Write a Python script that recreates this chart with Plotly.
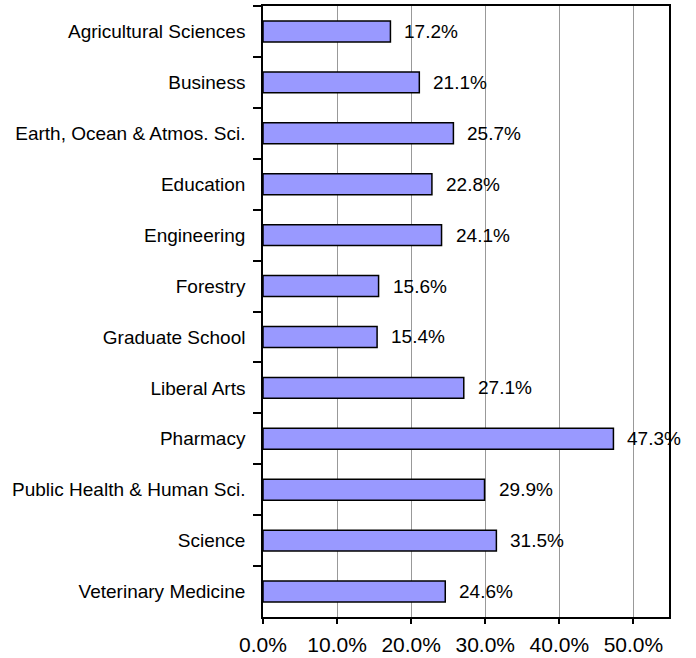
import plotly.graph_objects as go

categories = ["Agricultural Sciences", "Business", "Earth, Ocean & Atmos. Sci.", "Education",
              "Engineering", "Forestry", "Graduate School", "Liberal Arts", "Pharmacy",
              "Public Health & Human Sci.", "Science", "Veterinary Medicine"]
values = [0.172, 0.211, 0.257, 0.228, 0.241, 0.156, 0.154, 0.271, 0.473, 0.299, 0.315, 0.246]
x_ticks = [0, 0.1, 0.2, 0.3, 0.4, 0.5]

FONT = "Liberation Sans, Arial, sans-serif"

fig = go.Figure(go.Bar(
    y=categories, x=values, orientation="h",
    marker=dict(color="#9999FF", line=dict(color="black", width=1.5)),
    width=0.41,
))

for c, v in zip(categories, values):
    fig.add_annotation(x=v, y=c, text=f"{v*100:.1f}%", showarrow=False,
                       xanchor="left", xshift=12, font=dict(family=FONT, size=19, color="black"))

fig.update_layout(
    width=696, height=658,
    margin=dict(l=263, r=27, t=6, b=41, autoexpand=False),
    paper_bgcolor="white", plot_bgcolor="white",
    showlegend=False,
    font=dict(family=FONT, size=19, color="black"),
)
fig.update_xaxes(
    range=[0, 0.548], tickvals=x_ticks, tickformat=".1%",
    showgrid=True, gridcolor="#999999", gridwidth=1,
    showline=True, linecolor="black", linewidth=1.5, mirror=True,
    ticks="outside", ticklen=5, tickcolor="black", tickwidth=1.5,
    ticklabelstandoff=3,
    tickfont=dict(size=21), zeroline=False, automargin=False,
)
fig.update_yaxes(
    autorange="reversed", type="category", tickson="boundaries",
    showline=True, linecolor="black", linewidth=1.5, mirror=True,
    ticks="outside", ticklen=8, tickcolor="black", tickwidth=1.5,
    ticklabelstandoff=12, showgrid=False, automargin=False,
    tickfont=dict(size=19),
)

fig.write_html("out.html", config={"displayModeBar": False},
               post_script="document.body.style.margin='0';document.body.style.overflow='hidden';")
